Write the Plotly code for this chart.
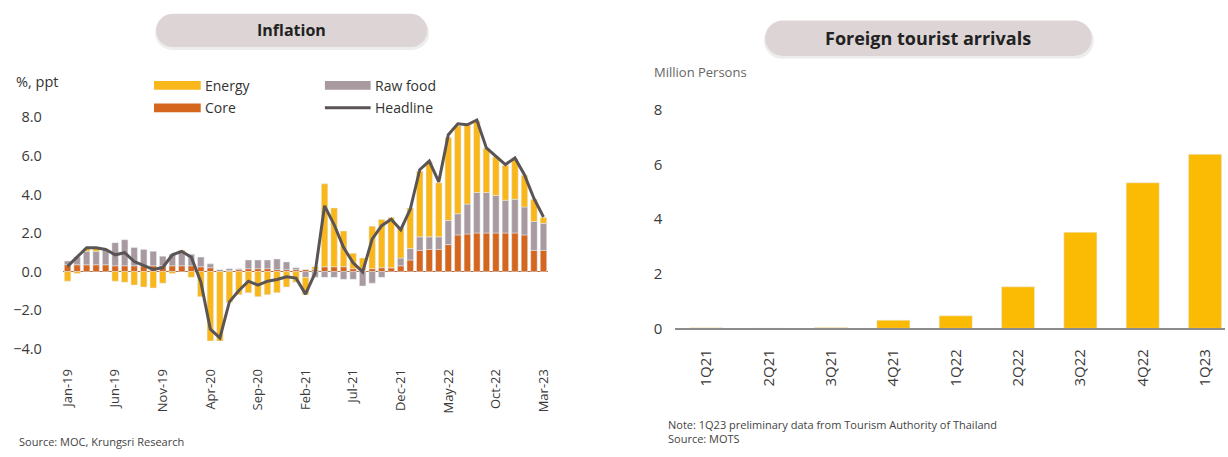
import plotly.graph_objects as go

# ---------------- data ----------------
months = ["Jan-19","Feb-19","Mar-19","Apr-19","May-19","Jun-19","Jul-19","Aug-19","Sep-19","Oct-19","Nov-19","Dec-19",
          "Jan-20","Feb-20","Mar-20","Apr-20","May-20","Jun-20","Jul-20","Aug-20","Sep-20","Oct-20","Nov-20","Dec-20",
          "Jan-21","Feb-21","Mar-21","Apr-21","May-21","Jun-21","Jul-21","Aug-21","Sep-21","Oct-21","Nov-21","Dec-21",
          "Jan-22","Feb-22","Mar-22","Apr-22","May-22","Jun-22","Jul-22","Aug-22","Sep-22","Oct-22","Nov-22","Dec-22",
          "Jan-23","Feb-23","Mar-23"]
month_ticks = ["Jan-19","Jun-19","Nov-19","Apr-20","Sep-20","Feb-21","Jul-21","Dec-21","May-22","Oct-22","Mar-23"]

core = [0.35,0.35,0.35,0.35,0.35,0.3,0.3,0.3,0.3,0.3,0.3,0.3,
        0.3,0.3,0.25,0.2,0.0,0.05,0.1,0.15,0.15,0.15,0.1,0.1,
        0.1,0.1,0.1,0.25,0.25,0.25,0.15,0.05,0.15,0.2,0.2,0.3,
        0.6,1.1,1.15,1.15,1.4,1.9,1.95,2.0,2.0,2.0,2.0,2.0,
        1.9,1.1,1.1]
raw_food = [0.2,0.4,0.7,0.7,0.8,1.2,1.35,0.95,0.85,0.75,0.5,0.6,
            0.7,0.6,0.5,0.2,0.1,0.1,0.05,0.45,0.45,0.45,0.55,0.4,
            0.1,-0.3,-0.3,-0.3,-0.3,-0.4,-0.4,-0.75,-0.6,-0.3,0.0,0.4,
            0.6,0.7,0.65,0.65,1.25,1.1,1.55,2.1,2.1,1.95,1.7,1.75,
            1.45,1.5,1.4]
energy = [-0.5,-0.1,0.15,0.15,0.0,-0.5,-0.55,-0.7,-0.8,-0.85,-0.6,-0.1,
          0.1,-0.3,-1.3,-3.6,-3.6,-1.6,-1.2,-1.1,-1.3,-1.2,-1.1,-0.8,
          -0.55,-0.9,0.15,4.3,3.05,1.85,0.8,0.65,2.2,2.5,2.6,1.6,
          2.1,3.4,3.9,2.8,4.3,4.55,4.1,3.7,2.3,2.0,1.8,2.1,
          1.65,1.15,0.3]
headline = [0.27,0.73,1.24,1.23,1.15,0.87,0.98,0.52,0.32,0.11,0.21,0.87,
            1.05,0.74,-0.54,-2.99,-3.44,-1.57,-0.98,-0.50,-0.70,-0.50,-0.41,-0.27,
            -0.34,-1.17,-0.08,3.41,2.44,1.25,0.45,-0.02,1.68,2.38,2.71,2.17,
            3.23,5.28,5.73,4.65,7.10,7.66,7.61,7.86,6.41,5.98,5.55,5.89,
            5.02,3.79,2.83]

quarters = ["1Q21","2Q21","3Q21","4Q21","1Q22","2Q22","3Q22","4Q22","1Q23"]
arrivals = [0.02,0.01,0.03,0.30,0.46,1.52,3.52,5.33,6.37]

# ---------------- styling ----------------
W, H = 1228, 457
C_ENERGY = "#F9B71C"
C_CORE = "#D4661E"
C_RAW = "#A89A9F"
C_HEAD = "#5B5455"
C_BAR2 = "#FBBB05"
FONT = "Open Sans"

def px(x):
    return x / W

def py(y):
    return 1 - y / H

fig = go.Figure()

fig.add_trace(go.Bar(x=months, y=core, marker_color=C_CORE, name="Core", xaxis="x", yaxis="y"))
fig.add_trace(go.Bar(x=months, y=raw_food, marker_color=C_RAW, name="Raw food", xaxis="x", yaxis="y"))
fig.add_trace(go.Bar(x=months, y=energy, marker_color=C_ENERGY, name="Energy", xaxis="x", yaxis="y"))
fig.add_trace(go.Scatter(x=months, y=headline, mode="lines", line=dict(color=C_HEAD, width=3),
                         name="Headline", xaxis="x", yaxis="y"))

fig.add_trace(go.Bar(x=quarters, y=arrivals, marker_color=C_BAR2, name="Arrivals", width=0.53,
                     xaxis="x2", yaxis="y2"))

fig.update_layout(
    width=W, height=H,
    margin=dict(l=0, r=0, t=0, b=0),
    paper_bgcolor="white", plot_bgcolor="white",
    barmode="relative",
    bargap=0.32,
    showlegend=False,
    font=dict(family=FONT, color="#333"),
    xaxis=dict(domain=[px(58.2), px(546.8)], type="category", tickvals=month_ticks,
               tickangle=-90, tickfont=dict(family=FONT, size=13, color="#3a3a3a"),
               showgrid=False, showline=False, zeroline=False, ticks="outside", ticklen=8,
               tickcolor="rgba(0,0,0,0)", anchor="y"),
    yaxis=dict(domain=[py(362), py(100)], range=[-4.32, 9.0], tickvals=[-4, -2, 0, 2, 4, 6, 8],
               tickformat=".1f", tickfont=dict(family=FONT, size=14.5, color="#3a3a3a"),
               showgrid=False, zeroline=True,
               zerolinecolor="#B56B3A", zerolinewidth=1.2, showline=False,
               ticklabelstandoff=20, anchor="x"),
    xaxis2=dict(domain=[px(674.6), 1.0], range=[-0.5, 8.32], type="category",
                tickangle=-90, tickfont=dict(family=FONT, size=15, color="#3a3a3a"),
                showgrid=False, showline=True, linecolor="#8c8c8c", linewidth=1.5,
                ticks="outside", ticklen=13, tickcolor="rgba(0,0,0,0)", anchor="y2"),
    yaxis2=dict(domain=[py(335), py(100)], range=[0, 8.43], tickvals=[0, 2, 4, 6, 8],
                tickfont=dict(family=FONT, size=15, color="#3a3a3a"), showgrid=False,
                zeroline=False, showline=False, ticklabelstandoff=12, anchor="x2"),
)

shapes = []
annotations = []

def pill(x0, y0, x1, y1, fill):
    r = (y1 - y0) / 2
    k = 0.5523 * r
    pts = [
        ("M", [(x0 + r, y0)]),
        ("L", [(x1 - r, y0)]),
        ("C", [(x1 - r + k, y0), (x1, y0 + r - k), (x1, y0 + r)]),
        ("C", [(x1, y0 + r + k), (x1 - r + k, y1), (x1 - r, y1)]),
        ("L", [(x0 + r, y1)]),
        ("C", [(x0 + r - k, y1), (x0, y0 + r + k), (x0, y0 + r)]),
        ("C", [(x0, y0 + r - k), (x0 + r - k, y0), (x0 + r, y0)]),
    ]
    d = ""
    for cmd, ps in pts:
        d += cmd + " " + " ".join(f"{px(a):.5f},{py(b):.5f}" for a, b in ps) + " "
    d += "Z"
    return dict(type="path", path=d, xref="paper", yref="paper", fillcolor=fill,
                line=dict(width=0), layer="below")

# title pills (with soft shadow)
shapes.append(pill(151, 16, 427, 51, "rgba(0,0,0,0.07)"))
shapes.append(pill(152, 14, 425, 48, "#DDD5D5"))
shapes.append(pill(764, 23, 1096, 60, "rgba(0,0,0,0.07)"))
shapes.append(pill(765, 21, 1094, 57, "#DDD5D5"))

annotations.append(dict(text="<b>Inflation</b>", x=px(288), y=py(31), xref="paper", yref="paper",
                        xanchor="center", yanchor="middle",
                        showarrow=False, font=dict(family=FONT, size=16, color="#222")))
annotations.append(dict(text="<b>Foreign tourist arrivals</b>", x=px(929), y=py(39), xref="paper", yref="paper",
                        xanchor="center", yanchor="middle",
                        showarrow=False, font=dict(family=FONT, size=18, color="#222")))

# manual legend for inflation chart
def swatch(x0, x1, yc, color):
    shapes.append(dict(type="rect", xref="paper", yref="paper", x0=px(x0), x1=px(x1),
                       y0=py(yc + 4.5), y1=py(yc - 4.5), fillcolor=color, line=dict(width=0)))

swatch(150, 197, 87, C_ENERGY)
swatch(150, 197, 110, C_CORE)
swatch(322, 368, 87, C_RAW)
shapes.append(dict(type="line", xref="paper", yref="paper", x0=px(322), x1=px(368),
                   y0=py(110), y1=py(110), line=dict(color=C_HEAD, width=3)))

for label, x, y in [("Energy", 199, 87), ("Core", 199, 110), ("Raw food", 370, 87), ("Headline", 370, 110)]:
    annotations.append(dict(text=label, x=px(x), y=py(y), xref="paper", yref="paper", xanchor="left",
                            yanchor="middle", showarrow=False, font=dict(family=FONT, size=14, color="#333")))

# axis titles / notes
annotations.append(dict(text="%, ppt", x=px(9), y=py(83), xref="paper", yref="paper", xanchor="left",
                        yanchor="middle", showarrow=False, font=dict(family=FONT, size=14.5, color="#333")))
annotations.append(dict(text="Million Persons", x=px(651), y=py(73), xref="paper", yref="paper", xanchor="left",
                        yanchor="middle", showarrow=False, font=dict(family=FONT, size=13, color="#666")))
annotations.append(dict(text="Source: MOC, Krungsri Research", x=px(12), y=py(450), xref="paper", yref="paper",
                        xanchor="left", yanchor="middle", showarrow=False,
                        font=dict(family=FONT, size=11, color="#444")))
annotations.append(dict(text="Note: 1Q23 preliminary data from Tourism Authority of Thailand", x=px(665), y=py(433),
                        xref="paper", yref="paper", xanchor="left", yanchor="middle", showarrow=False,
                        font=dict(family=FONT, size=11, color="#444")))
annotations.append(dict(text="Source: MOTS", x=px(665), y=py(447), xref="paper", yref="paper",
                        xanchor="left", yanchor="middle", showarrow=False,
                        font=dict(family=FONT, size=11, color="#444")))

fig.update_layout(shapes=shapes, annotations=annotations)

fig.write_html("out.html")
